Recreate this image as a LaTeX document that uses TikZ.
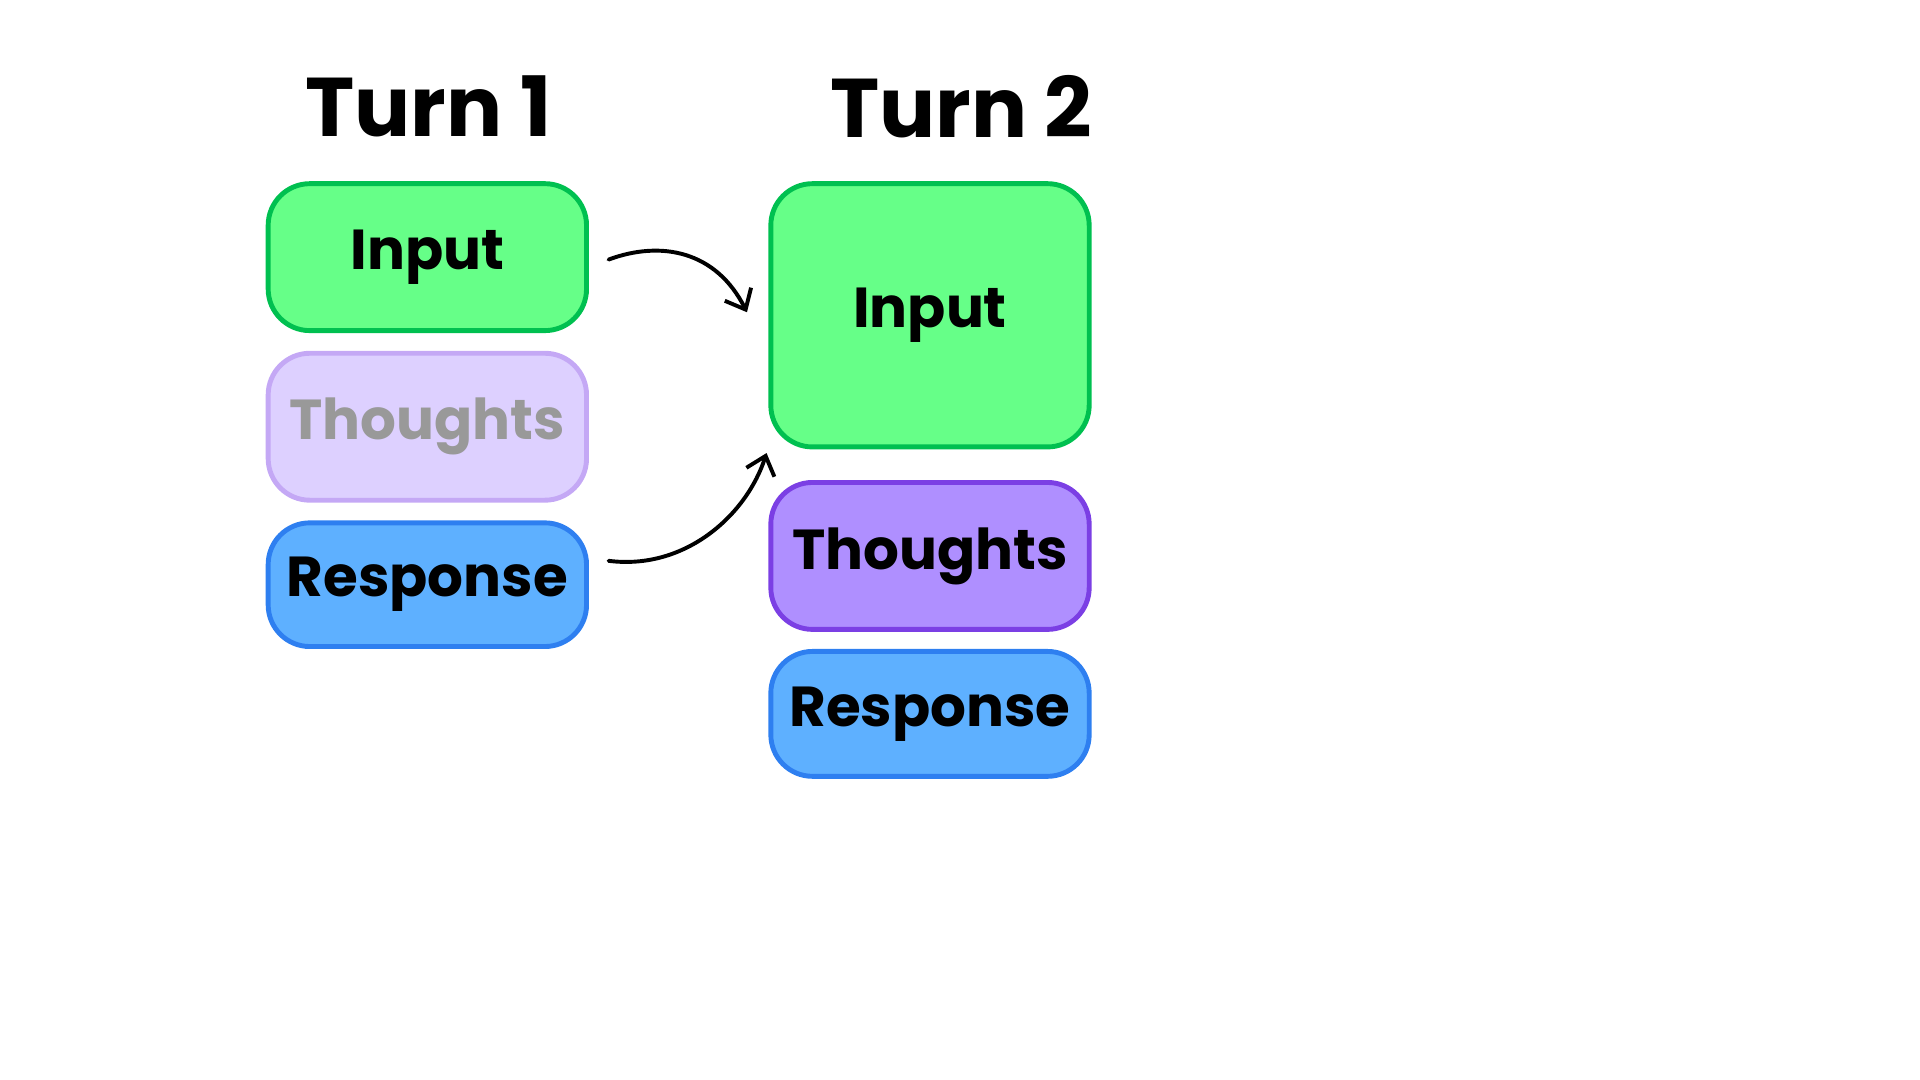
\documentclass[tikz,border=0pt]{standalone}
\usepackage{fontspec}
\setmainfont{Poppins}[UprightFont=* Bold]
\usetikzlibrary{arrows.meta}
\definecolor{gfill}{HTML}{66FF88}\definecolor{gline}{HTML}{00C050}
\definecolor{lpfill}{HTML}{DDD0FF}\definecolor{lpline}{HTML}{C4A8F5}
\definecolor{pfill}{HTML}{AF8FFF}\definecolor{pline}{HTML}{7B3FE4}
\definecolor{bfill}{HTML}{5EB0FF}\definecolor{bline}{HTML}{2E7FF0}
\begin{document}
\begin{tikzpicture}[x=0.5pt,y=-0.5pt,
 box/.style={draw, line width=2pt, rounded corners=17pt, minimum width=130pt, inner sep=0pt, font=\fontsize{23}{26}\selectfont},
 title/.style={font=\fontsize{34}{38}\selectfont},
 arr/.style={line width=1.6pt, line cap=round, -{Straight Barb[length=7pt,width=12pt,line width=1.6pt]}}]
\useasboundingbox (0,0) rectangle (1568,882);
\node[title] (t1) at (350,87) {Turn 1};
\node[title] (t2) at (785,87) {Turn 2};
\node[box, fill=gfill, draw=gline, minimum height=60pt] (i1) at (349,210) {Input};
\node[box, fill=lpfill, draw=lpline, text=black!40, minimum height=60pt] (th1) at (349,348.5) {Thoughts};
\node[box, fill=bfill, draw=bline, minimum height=50.5pt] (r1) at (349,477.5) {Response};
\node[box, fill=gfill, draw=gline, minimum height=107.5pt] (i2) at (759.5,257.5) {Input};
\node[box, fill=pfill, draw=pline, minimum height=60pt] (th2) at (759.5,454) {Thoughts};
\node[box, fill=bfill, draw=bline, minimum height=51pt] (r2) at (759.5,583) {Response};
\coordinate (a1s) at (497,212); \coordinate (a1e) at (610,255);
\coordinate (a2s) at (497,458); \coordinate (a2e) at (626,370);
\draw[arr] (a1s) .. controls (540,196) and (585,205) .. (a1e);
\draw[arr] (a2s) .. controls (560,466) and (610,420) .. (a2e);
\end{tikzpicture}
\end{document}
